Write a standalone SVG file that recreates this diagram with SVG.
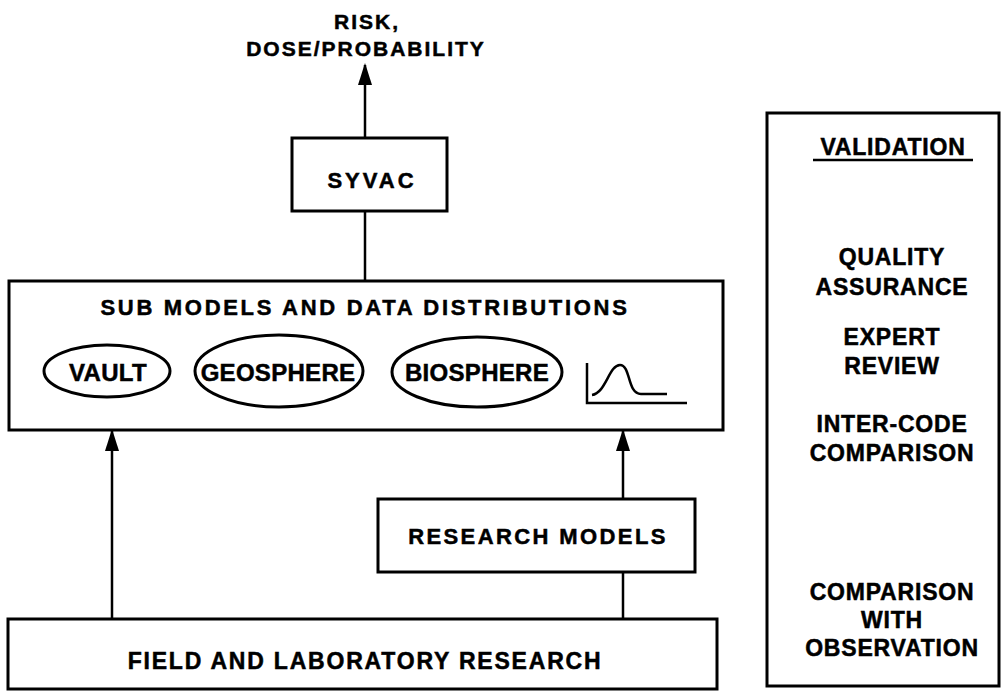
<svg xmlns="http://www.w3.org/2000/svg" width="1002" height="693" viewBox="0 0 1002 693">
<defs>
<style>
.box{fill:#fff;stroke:#000;stroke-width:3}
.ell{fill:none;stroke:#000;stroke-width:3}
.ln{fill:none;stroke:#000;stroke-width:2.5}
text{font-family:"Liberation Sans",Arial,Helvetica,sans-serif;font-weight:bold;fill:#000;stroke:#000;stroke-width:0.5;text-anchor:middle}
.tr{font-size:21px;letter-spacing:2px}
.ts{font-size:22px;letter-spacing:3px}
.tt{font-size:22px;letter-spacing:2.7px}
.trm{font-size:22px;letter-spacing:2.4px}
.tf{font-size:23px;letter-spacing:1.8px}
.tel{font-size:24px;letter-spacing:0.3px}
.tv{font-size:23px;letter-spacing:0.8px}
</style>
<marker id="ah" markerUnits="userSpaceOnUse" markerWidth="22" markerHeight="14" refX="20" refY="7" orient="auto" viewBox="0 0 22 14">
<path d="M0,0 L22,7 L0,14 Z" fill="#000"/>
</marker>
</defs>
<rect width="1002" height="693" fill="#fff"/>

<g id="output">
<text class="tr" x="367" y="29">RISK,</text>
<text class="tr" x="366" y="56">DOSE/PROBABILITY</text>
</g>

<g id="syvac">
<rect class="box" x="292" y="138" width="155" height="73"/>
<text class="ts" x="372" y="188">SYVAC</text>
</g>

<g id="submodels">
<rect class="box" x="9" y="281" width="714" height="149"/>
<text class="tt" x="365" y="315">SUB MODELS AND DATA DISTRIBUTIONS</text>
<g id="vault">
<ellipse class="ell" cx="107" cy="371" rx="63" ry="26"/>
<text class="tel" x="108" y="381">VAULT</text>
</g>
<g id="geosphere">
<ellipse class="ell" cx="279" cy="371" rx="84" ry="36"/>
<text class="tel" x="278" y="381">GEOSPHERE</text>
</g>
<g id="biosphere">
<ellipse class="ell" cx="477" cy="372" rx="85" ry="35"/>
<text class="tel" x="477" y="381">BIOSPHERE</text>
</g>
<g id="distribution">
<path class="ln" d="M587,363 V403 H687"/>
<path class="ln" d="M592,395 C606,393 609,365 620,365 C631,365 627,394 641,394 L667,394"/>
</g>
</g>

<g id="research-models">
<rect class="box" x="378" y="499" width="317" height="73"/>
<text class="trm" x="538" y="544">RESEARCH MODELS</text>
</g>

<g id="field">
<rect class="box" x="8" y="619" width="709" height="70"/>
<text class="tf" x="365" y="669">FIELD AND LABORATORY RESEARCH</text>
</g>

<g id="validation">
<rect class="box" x="767" y="113" width="232" height="573"/>
<text class="tv" x="893" y="155">VALIDATION</text>
<line x1="813" y1="160" x2="973" y2="160" stroke="#000" stroke-width="2.5"/>
<text class="tv" x="892" y="265">QUALITY</text>
<text class="tv" x="892" y="295">ASSURANCE</text>
<text class="tv" x="892" y="345">EXPERT</text>
<text class="tv" x="892" y="374">REVIEW</text>
<text class="tv" x="892" y="432">INTER-CODE</text>
<text class="tv" x="892" y="461">COMPARISON</text>
<text class="tv" x="892" y="600">COMPARISON</text>
<text class="tv" x="892" y="628">WITH</text>
<text class="tv" x="892" y="656">OBSERVATION</text>
</g>

<g id="connectors">
<line class="ln" x1="365" y1="138" x2="365" y2="65" marker-end="url(#ah)"/>
<line class="ln" x1="365" y1="211" x2="365" y2="281"/>
<line class="ln" x1="112" y1="619" x2="112" y2="431" marker-end="url(#ah)"/>
<line class="ln" x1="623" y1="499" x2="623" y2="431" marker-end="url(#ah)"/>
<line class="ln" x1="623" y1="572" x2="623" y2="619"/>
</g>
</svg>
